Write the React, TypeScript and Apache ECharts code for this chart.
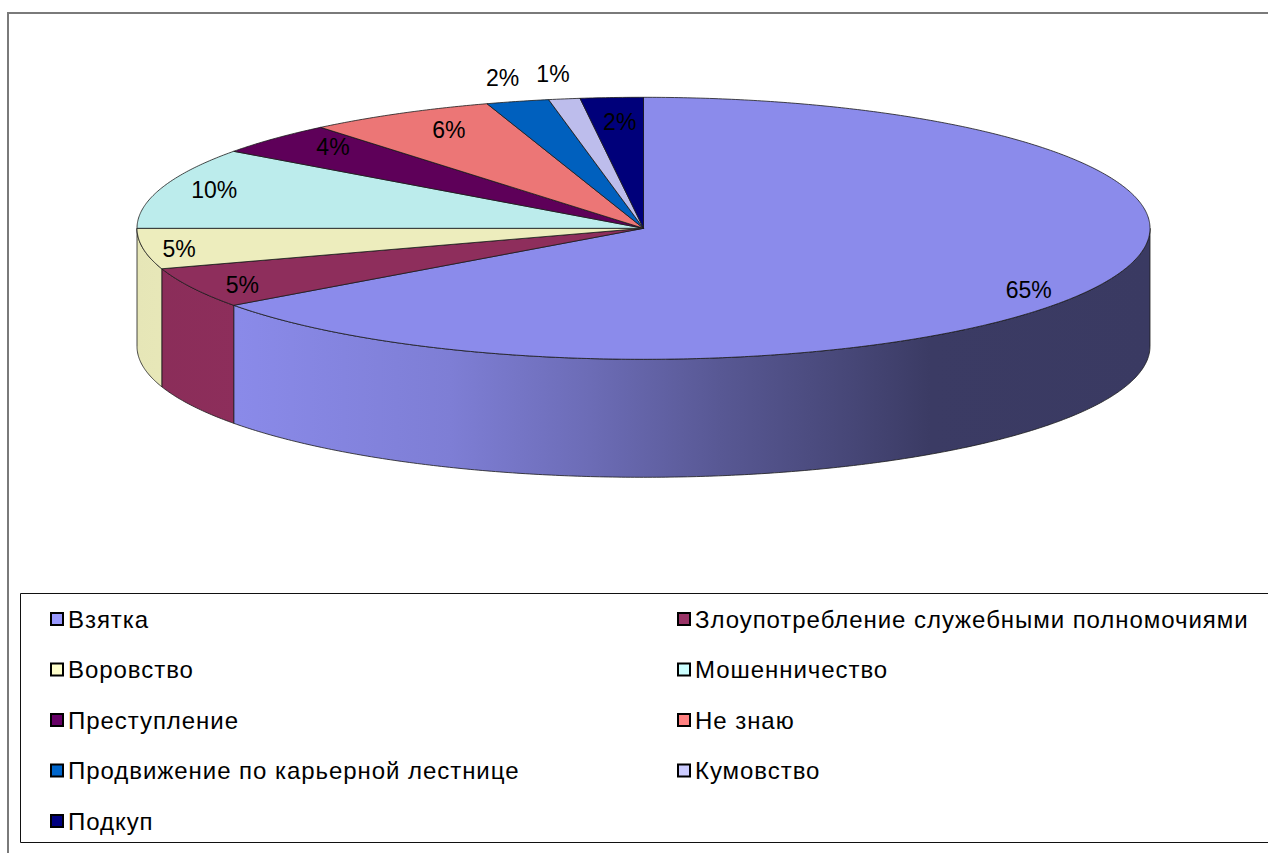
import React, { useEffect, useRef } from "react";
import * as echarts from "echarts";

const categories = [
  "Взятка",
  "Злоупотребление служебными полномочиями",
  "Воровство",
  "Мошенничество",
  "Преступление",
  "Не знаю",
  "Продвижение по карьерной лестнице",
  "Кумовство",
  "Подкуп",
];
const values = [65, 5, 5, 10, 4, 6, 2, 1, 2];

// colours of the lit top faces and of the legend markers
const topColors = ["#8B8BEB", "#8E2E5C", "#EDEDBD", "#BCECEC", "#5E0059", "#EC7676", "#0060BE", "#BDBDEC", "#00007A"];
const legendColors = ["#9999FF", "#993366", "#FFFFCC", "#CCFFFF", "#660066", "#FF8080", "#0066CC", "#CCCCFF", "#000080"];

// label placement (radius as share of the ellipse, angle shift in degrees)
const labelRadius = [0.896, 0.904, 0.931, 0.896, 0.87, 0.841, 1.183, 1.195, 0.816];
const labelShift = [4.9, -1.8, -1, 0.9, 2, 1.6, 0.8, 0.4, 0.3];

const legendCol1 = [0, 2, 4, 6, 8];
const legendCol2 = [1, 3, 5, 7];

// geometry of the 3-D disc
const CX = 643.5;
const CY = 228.3;
const RX = 506.5;
const RY = 131;
const DEPTH = 118;

// brightness profile for the outer wall (x position -> factor)
const WALL_X0 = 137;
const WALL_X1 = 1150;
const shadeStops: [number, number][] = [
  [137, 0.97],
  [238, 0.99],
  [450, 0.906],
  [590, 0.775],
  [720, 0.63],
  [855, 0.5],
  [930, 0.425],
  [1150, 0.417],
];

function scaleColor(hex: string, f: number) {
  const n = parseInt(hex.slice(1), 16);
  const r = Math.round(((n >> 16) & 255) * f);
  const g = Math.round(((n >> 8) & 255) * f);
  const b = Math.round((n & 255) * f);
  return `rgb(${r},${g},${b})`;
}

function pt(theta: number, dy = 0, k = 1): number[] {
  const t = (theta * Math.PI) / 180;
  return [CX + RX * k * Math.sin(t), CY - RY * k * Math.cos(t) + dy];
}

function arc(a: number, b: number, dy = 0): number[][] {
  const pts: number[][] = [];
  const steps = Math.max(2, Math.ceil(Math.abs(b - a) / 0.5));
  for (let s = 0; s <= steps; s++) pts.push(pt(a + ((b - a) * s) / steps, dy));
  return pts;
}

const total = values.reduce((s, v) => s + v, 0);
const cumulative = values.map((_, i) => values.slice(0, i).reduce((s, v) => s + v, 0));

function makeSeries(i: number) {
  return {
    type: "custom",
    name: categories[i],
    coordinateSystem: "none",
    data: [[values[i]]],
    itemStyle: { color: legendColors[i] },
    renderItem: (_params: any, api: any) => {
      const v = api.value(0);
      const a0 = (cumulative[i] / total) * 360;
      const a1 = a0 + (v / total) * 360;
      const children: any[] = [];
      // front wall
      const w0 = Math.max(a0, 90);
      const w1 = Math.min(a1, 270);
      if (w1 > w0) {
        const top = arc(w0, w1);
        const bottom = arc(w0, w1, DEPTH).reverse();
        children.push({
          type: "polygon",
          z2: 1,
          shape: { points: top.concat(bottom) },
          style: {
            fill: {
              type: "linear",
              x: WALL_X0,
              y: 0,
              x2: WALL_X1,
              y2: 0,
              global: true,
              colorStops: shadeStops.map(([x, f]) => ({
                offset: (x - WALL_X0) / (WALL_X1 - WALL_X0),
                color: scaleColor(topColors[i], f),
              })),
            },
            stroke: "#1a1a1a",
            lineWidth: 0.8,
          },
        });
      }
      // top face
      children.push({
        type: "polygon",
        z2: 5,
        shape: { points: [[CX, CY]].concat(arc(a0, a1)) },
        style: { fill: topColors[i], stroke: "#1a1a1a", lineWidth: 0.8 },
      });
      // label
      const mid = (a0 + a1) / 2 + labelShift[i];
      const lp = pt(mid, 0, labelRadius[i]);
      children.push({
        type: "text",
        z2: 10,
        x: lp[0],
        y: lp[1],
        style: {
          text: Math.round((v / total) * 100) + "%",
          fill: "#000",
          font: '23px "Liberation Sans", Arial, sans-serif',
          align: "center",
          verticalAlign: "middle",
        },
      });
      return { type: "group", children };
    },
  };
}

function legendFor(cols: number[], left: number) {
  return {
    orient: "vertical",
    left,
    top: 607,
    icon: "rect",
    itemWidth: 12,
    itemHeight: 12,
    itemGap: 26.5,
    selectedMode: false,
    padding: 0,
    textStyle: {
      fontSize: 24,
      fontFamily: '"Liberation Sans", Arial, sans-serif',
      color: "#000",
      lineHeight: 24,
    },
    data: cols.map((i) => ({
      name: categories[i],
      itemStyle: { color: legendColors[i], borderColor: "#000", borderWidth: 2 },
    })),
  };
}

export default function App() {
  const ref = useRef<HTMLDivElement>(null);
  useEffect(() => {
    if (!ref.current) return;
    const chart = echarts.init(ref.current, null, { renderer: "svg" });
    chart.setOption({
      animation: false,
      backgroundColor: "#fff",
      legend: [legendFor(legendCol1, 50), legendFor(legendCol2, 677)],
      graphic: [
        {
          type: "rect",
          z: -1,
          shape: { x: 8, y: 13, width: 1400, height: 1000 },
          style: { fill: "none", stroke: "#7a7a7a", lineWidth: 2 },
        },
        {
          type: "rect",
          z: -1,
          shape: { x: 20.5, y: 593.5, width: 1400, height: 249 },
          style: { fill: "none", stroke: "#111", lineWidth: 1 },
        },
      ],
      series: values.map((_, i) => makeSeries(i)),
    });
    return () => chart.dispose();
  }, []);
  return (
    <>
      <style>{'.chart-root text[style*="24px"]{letter-spacing:0.95px}'}</style>
      <div
        ref={ref}
        className="chart-root"
        style={{ position: "absolute", left: 0, top: 0, width: 1268, height: 853 }}
      />
    </>
  );
}
